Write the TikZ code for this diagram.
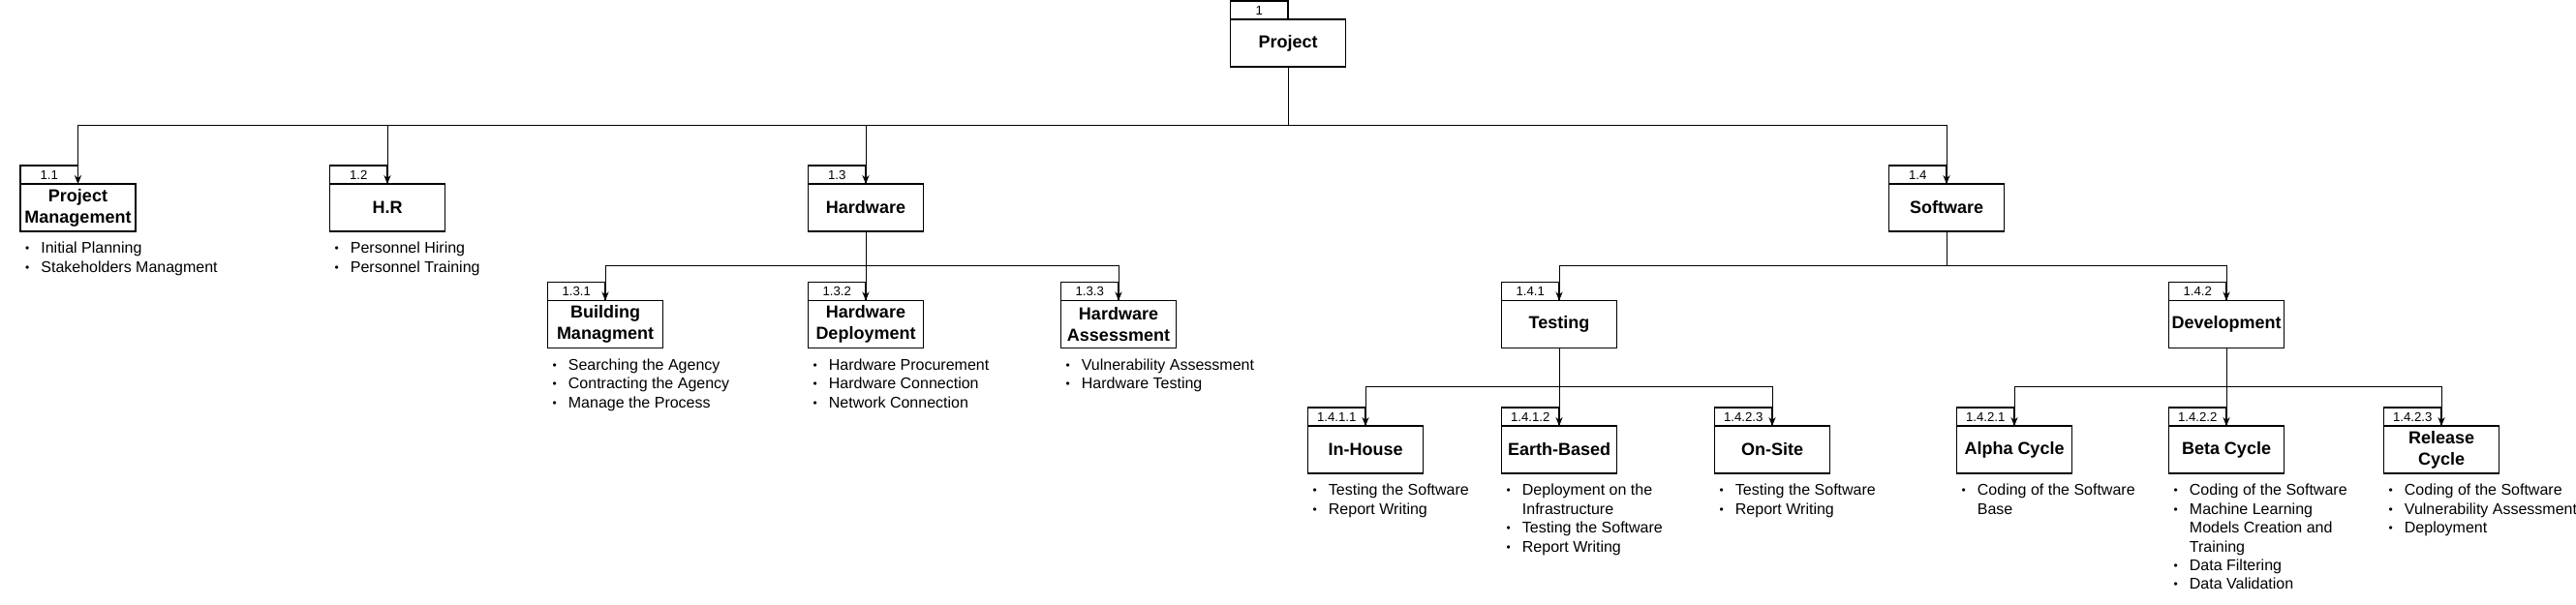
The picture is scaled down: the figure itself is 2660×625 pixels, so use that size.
\documentclass[tikz,border=0pt]{standalone}
\usepackage{fontspec}
\setmainfont{Liberation Sans}
\usetikzlibrary{arrows.meta}
\newcommand{\itm}{\makebox[10.5pt][l]{\hspace{2.4pt}\raisebox{0.5pt}{\fontsize{6}{6}\selectfont\textbullet}}}

\begin{document}
\begin{tikzpicture}[x=0.5pt, y=-0.5pt, >={Stealth[length=4.5pt, width=3.6pt]},
  wbsbox/.style={draw, line width=0.55pt, outer sep=0pt, inner sep=1pt,
    minimum width=59.5pt, minimum height=24.5pt, align=center,
    font=\fontsize{9}{11}\selectfont\bfseries},
  wbstab/.style={draw, line width=0.55pt, outer sep=0pt, inner sep=0pt,
    minimum width=29.75pt, minimum height=9.5pt, anchor=south east,
    font=\fontsize{6.6}{7}\selectfont},
  items/.style={anchor=north west, inner sep=0pt, yshift=-5.5pt, align=left,
    font=\fontsize{8}{9.7}\selectfont},
  link/.style={->, line width=0.5pt}]
  \useasboundingbox (0,0) rectangle (2660,625);
  % WBS boxes: name / centre x / centre y / number / title
  \foreach \n/\x/\y/\wbs/\lbl in {
      root/1330/44.5/1/Project,
      pm/80.5/214.5/1.1/{Project\\Management}, hr/400/214.5/1.2/H.R,
      hw/894/214.5/1.3/Hardware, sw/2010/214.5/1.4/Software,
      bm/625/335/1.3.1/{Building\\Managment}, hd/894/335/1.3.2/{Hardware\\Deployment},
      ha/1155/335/1.3.3/{Hardware\\Assessment},
      tst/1610/335/1.4.1/Testing, dev/2299/335/1.4.2/Development,
      ih/1410/464.5/1.4.1.1/In-House, eb/1610/464.5/1.4.1.2/Earth-Based,
      os/1830/464.5/1.4.2.3/On-Site,
      ac/2080/464.5/1.4.2.1/Alpha Cycle, bc/2299/464.5/1.4.2.2/Beta Cycle,
      rc/2521/464.5/1.4.2.3/{Release\\Cycle}} {
    \node[wbsbox] (\n) at (\x,\y) {\lbl};
    \node[wbstab] (\n-tab) at (\n.north) {\wbs};
  }
  % Tree connectors, one bus per level
  \foreach \c in {pm,hr,hw,sw} \draw[link] (root.south) -- ++(0,61) -| (\c.north);
  \foreach \c in {bm,hd,ha} \draw[link] (hw.south) -- ++(0,36) -| (\c.north);
  \foreach \c in {tst,dev} \draw[link] (sw.south) -- ++(0,36) -| (\c.north);
  \foreach \c in {ih,eb,os} \draw[link] (tst.south) -- ++(0,40) -| (\c.north);
  \foreach \c in {ac,bc,rc} \draw[link] (dev.south) -- ++(0,40) -| (\c.north);
  % Work items under each box
  \node[items] (pm-items) at (pm.south west) {\itm Initial Planning\\ \itm Stakeholders Managment};
  \node[items] (hr-items) at (hr.south west) {\itm Personnel Hiring\\ \itm Personnel Training};
  \node[items] (bm-items) at (bm.south west) {\itm Searching the Agency\\ \itm Contracting the Agency\\ \itm Manage the Process};
  \node[items] (hd-items) at (hd.south west) {\itm Hardware Procurement\\ \itm Hardware Connection\\ \itm Network Connection};
  \node[items] (ha-items) at (ha.south west) {\itm Vulnerability Assessment\\ \itm Hardware Testing};
  \node[items] (ih-items) at (ih.south west) {\itm Testing the Software\\ \itm Report Writing};
  \node[items] (eb-items) at (eb.south west) {\itm Deployment on the\\ \hphantom{\itm}Infrastructure\\ \itm Testing the Software\\ \itm Report Writing};
  \node[items] (os-items) at (os.south west) {\itm Testing the Software\\ \itm Report Writing};
  \node[items] (ac-items) at (ac.south west) {\itm Coding of the Software\\ \hphantom{\itm}Base};
  \node[items] (bc-items) at (bc.south west) {\itm Coding of the Software\\ \itm Machine Learning\\ \hphantom{\itm}Models Creation and\\ \hphantom{\itm}Training\\ \itm Data Filtering\\ \itm Data Validation};
  \node[items] (rc-items) at (rc.south west) {\itm Coding of the Software\\ \itm Vulnerability Assessment\\ \itm Deployment};
\end{tikzpicture}
\end{document}
